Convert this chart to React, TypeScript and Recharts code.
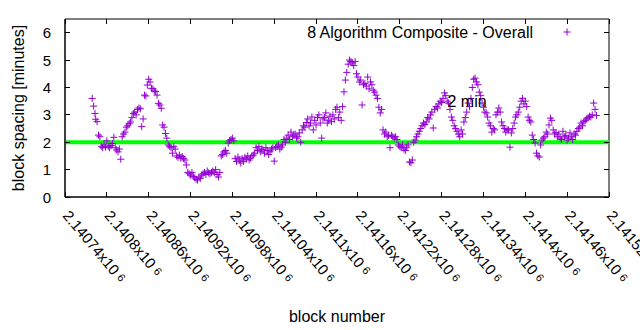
import {
  ScatterChart,
  Scatter,
  XAxis,
  YAxis,
  ReferenceLine,
  ReferenceArea,
  ReferenceDot,
  Label,
  Customized,
} from "recharts"

// block numbers are stored as offsets from the first x tick
const BASE_BLOCK = 2140740

const blockOffsets = [
  39, 41, 43, 44, 46, 48, 50, 52, 54, 56,
  58, 60, 62, 64, 66, 68, 70, 72, 74, 76,
  78, 80, 82, 84, 86, 88, 90, 92, 94, 96,
  98, 100, 102, 104, 106, 108, 110, 112, 114, 116,
  118, 120, 122, 124, 126, 128, 130, 132, 134, 136,
  138, 140, 142, 144, 146, 148, 150, 152, 154, 156,
  158, 160, 162, 164, 166, 168, 170, 172, 174, 176,
  178, 180, 182, 184, 186, 188, 190, 192, 194, 196,
  198, 200, 202, 204, 206, 208, 210, 212, 214, 216,
  218, 220, 222, 224, 226, 228, 230, 232, 234, 236,
  238, 240, 242, 244, 246, 248, 250, 252, 254, 256,
  258, 260, 262, 264, 266, 268, 270, 272, 274, 276,
  278, 280, 282, 284, 286, 288, 290, 292, 294, 296,
  298, 300, 302, 304, 306, 308, 310, 312, 314, 316,
  318, 320, 322, 324, 326, 328, 330, 332, 334, 336,
  338, 340, 342, 344, 346, 348, 350, 352, 354, 356,
  358, 360, 362, 364, 366, 368, 370, 372, 374, 376,
  378, 380, 382, 384, 386, 388, 390, 392, 394, 396,
  398, 400, 402, 404, 406, 408, 410, 412, 414, 416,
  418, 420, 422, 424, 426, 428, 430, 432, 434, 436,
  438, 440, 442, 444, 446, 448, 450, 452, 454, 456,
  458, 460, 462, 464, 466, 468, 470, 472, 474, 476,
  478, 480, 482, 484, 486, 488, 490, 492, 494, 496,
  498, 500, 502, 504, 506, 508, 510, 512, 514, 516,
  518, 520, 522, 524, 526, 528, 530, 532, 534, 536,
  538, 540, 542, 544, 546, 548, 550, 552, 554, 556,
  558, 560, 562, 564, 566, 568, 570, 572, 574, 576,
  578, 580, 582, 584, 586, 588, 590, 592, 594, 596,
  598, 600, 602, 604, 606, 608, 610, 612, 614, 616,
  618, 620, 622, 624, 626, 628, 630, 632, 634, 636,
  638, 640, 642, 644, 646, 648, 650, 652, 654, 656,
  658, 660, 662, 664, 666, 668, 670, 672, 674, 676,
  678, 680, 682, 684, 686, 688, 690, 692, 694, 696,
  698, 700, 702, 704, 706, 708, 710, 712, 714, 716,
  718, 720, 722, 724, 726, 728, 730, 732, 734, 736,
  738, 740, 742, 744, 746, 748, 750, 752, 754, 756,
  758, 760, 762,
]

const spacingMinutes = [
  3.6, 3.32, 3.05, 2.84, 2.75, 2.26, 2.2, 1.85, 1.8, 1.9,
  1.82, 2.05, 1.85, 1.8, 1.88, 1.95, 2.18, 1.8, 1.72, 1.65,
  1.75, 1.38, 2.2, 2.3, 2.37, 2.55, 2.6, 2.68, 2.74, 2.9,
  3.05, 3.1, 3.0, 3.2, 3.25, 3.22, 2.57, 2.85, 3.72, 3.69,
  4.09, 4.3, 4.2, 3.97, 3.95, 3.87, 3.85, 3.72, 3.42, 3.36,
  3.24, 2.63, 2.55, 2.32, 2.15, 1.9, 1.85, 1.8, 1.6, 1.85,
  1.75, 1.5, 1.45, 1.53, 1.42, 1.48, 1.4, 1.35, 1.17, 0.9,
  0.85, 0.8, 0.9, 0.75, 0.7, 0.65, 0.62, 0.73, 0.68, 0.8,
  0.85, 0.9, 0.82, 0.95, 0.88, 0.85, 0.9, 0.95, 0.88, 1.0,
  0.82, 0.73, 0.9, 1.5, 1.55, 1.65, 1.7, 1.6, 1.97, 2.05,
  2.1, 2.15, 2.05, 1.4, 1.3, 1.46, 1.35, 1.24, 1.4, 1.3,
  1.45, 1.38, 1.5, 1.35, 1.42, 1.5, 1.53, 1.6, 1.8, 1.7,
  1.85, 1.65, 1.75, 1.72, 1.6, 1.8, 1.7, 1.55, 1.65, 1.75,
  1.8, 1.31, 1.8, 1.85, 1.9, 1.75, 1.82, 1.9, 2.1, 2.0,
  2.15, 2.26, 2.1, 2.37, 2.2, 2.26, 2.3, 2.15, 2.2, 2.34,
  2.0, 2.45, 2.6, 2.55, 2.72, 2.85, 2.6, 2.7, 2.92, 2.45,
  2.8, 2.63, 2.9, 3.0, 2.7, 2.15, 2.85, 2.9, 3.07, 2.7,
  2.8, 2.95, 2.75, 3.0, 2.85, 3.2, 3.28, 2.9, 3.1, 2.8,
  3.3, 3.84, 4.27, 4.55, 4.85, 5.0, 4.95, 4.9, 4.8, 4.95,
  4.5, 4.38, 4.2, 4.27, 3.36, 4.1, 4.15, 4.05, 4.38, 3.95,
  4.2, 4.1, 3.9, 3.83, 3.72, 3.6, 3.28, 3.07, 3.2, 2.45,
  2.3, 2.37, 2.2, 2.25, 1.8, 2.26, 2.2, 2.15, 2.2, 2.1,
  1.9, 1.85, 1.8, 1.9, 1.75, 1.7, 1.82, 1.9, 1.28, 1.25,
  1.35, 2.0, 2.08, 2.2, 2.3, 2.4, 2.5, 2.6, 2.7, 2.65,
  2.74, 2.9, 2.85, 3.0, 3.1, 2.52, 3.2, 3.3, 3.25, 3.4,
  3.5, 3.45, 3.6, 3.8, 3.7, 3.5, 3.43, 3.2, 2.92, 2.8,
  2.6, 2.5, 2.4, 2.3, 2.2, 2.45, 2.3, 2.74, 2.9, 3.1,
  3.43, 3.3, 3.6, 4.0, 4.3, 4.34, 4.2, 4.1, 3.83, 3.7,
  3.43, 3.28, 3.1, 3.07, 2.92, 2.7, 2.6, 2.37, 2.5, 2.45,
  3.0, 3.1, 3.25, 3.1, 2.74, 2.6, 2.5, 2.37, 2.45, 2.45,
  1.82, 2.34, 2.5, 2.7, 2.92, 3.0, 3.1, 3.28, 3.5, 3.6,
  3.4, 3.5, 3.3, 2.92, 2.8, 2.74, 2.26, 2.1, 1.97, 1.6,
  1.5, 1.46, 1.9, 2.08, 2.15, 2.2, 2.37, 2.3, 2.63, 2.88,
  2.8, 2.45, 2.3, 2.35, 2.2, 2.3, 2.15, 2.1, 2.4, 2.2,
  2.25, 2.08, 2.15, 2.34, 2.2, 2.1, 2.3, 2.26, 2.4, 2.5,
  2.55, 2.7, 2.6, 2.75, 2.8, 2.85, 2.9, 2.95, 2.92, 3.0,
  3.43, 3.2, 2.98,
]

const xTicks = [
  2140740, 2140800, 2140860, 2140920, 2140980, 2141040, 2141100,
  2141160, 2141220, 2141280, 2141340, 2141400, 2141460, 2141520,
]
const yTicks = [0, 1, 2, 3, 4, 5, 6]

const seriesName = "8 Algorithm Composite - Overall"
const targetMinutes = 2
const targetLabel = "2 min"
const targetLabelAt = { block: 2141287, minutes: 3.49 }

const data = blockOffsets.map((o, i) => ({ block: BASE_BLOCK + o, spacing: spacingMinutes[i] }))

const W = 640
const H = 330
const PLOT_W = 544
const PLOT_H = 178
const TICK = 5
const PURPLE = "#9400d3"
const FONT = '"Liberation Sans", Arial, sans-serif'

const PlusMarker = (props: any) => {
  const { cx, cy } = props
  if (cx == null || cy == null) return null
  const s = 3.5
  return (
    <path
      d={`M${cx - s},${cy}H${cx + s}M${cx},${cy - s}V${cy + s}`}
      stroke={PURPLE}
      strokeWidth={1}
      fill="none"
    />
  )
}

const XTick = ({ x, y, payload }: any) => {
  const mantissa = parseFloat((payload.value / 1e6).toFixed(5)).toString()
  const tx = x - 3
  const ty = y + 19
  return (
    <g>
      <line x1={x} x2={x} y1={y} y2={y - TICK} stroke="#000" shapeRendering="crispEdges" />
      <line x1={x} x2={x} y1={y - PLOT_H} y2={y - PLOT_H + TICK} stroke="#000" shapeRendering="crispEdges" />
      <text transform={`rotate(50 ${tx} ${ty})`} x={tx} y={ty} fontSize={15} fill="#000">
        {mantissa}x10
        <tspan fontSize={11} dx={4} dy={-2}>6</tspan>
      </text>
    </g>
  )
}

const YTick = ({ x, y, payload }: any) => (
  <g>
    <line x1={x} x2={x + TICK} y1={y} y2={y} stroke="#000" shapeRendering="crispEdges" />
    <line x1={x + PLOT_W - TICK} x2={x + PLOT_W} y1={y} y2={y} stroke="#000" shapeRendering="crispEdges" />
    <text x={x - 14} y={y} textAnchor="end" dominantBaseline="central" fontSize={15} fill="#000">
      {payload.value}
    </text>
  </g>
)

const LegendBox = () => {
  const ty = 32
  return (
    <g>
      <text x={533} y={ty} textAnchor="end" dominantBaseline="central" fontSize={16} fill="#000">
        {seriesName}
      </text>
      <PlusMarker cx={567} cy={ty} />
    </g>
  )
}

export default function App() {
  return (
    <div style={{ position: "absolute", left: 0, top: 0, width: W, height: H, background: "#fff", fontFamily: FONT }}>
      <ScatterChart width={W} height={H} margin={{ top: 19, right: 31, bottom: 0, left: 0 }}>
        <XAxis
          dataKey="block"
          type="number"
          domain={[xTicks[0], xTicks[xTicks.length - 1]]}
          ticks={xTicks}
          interval={0}
          allowDataOverflow
          height={133}
          tickSize={0}
          tickMargin={0}
          tickLine={false}
          axisLine={{ stroke: "#000" }}
          tick={<XTick />}
        >
          <Label
            content={(p: any) => (
              <text
                x={p.viewBox.x + p.viewBox.width / 2}
                y={p.viewBox.y + 119}
                textAnchor="middle"
                dominantBaseline="central"
                fontSize={16}
                fill="#000"
              >
                block number
              </text>
            )}
          />
        </XAxis>
        <YAxis
          dataKey="spacing"
          type="number"
          domain={[0, 6.5]}
          ticks={yTicks}
          interval={0}
          allowDataOverflow
          width={65}
          tickSize={0}
          tickMargin={0}
          tickLine={false}
          axisLine={{ stroke: "#000" }}
          tick={<YTick />}
        >
          <Label
            content={(p: any) => {
              const cx = 18
              const cy = p.viewBox.y + p.viewBox.height / 2
              return (
                <text
                  transform={`rotate(-90 ${cx} ${cy})`}
                  x={cx}
                  y={cy}
                  textAnchor="middle"
                  dominantBaseline="central"
                  fontSize={16}
                  fill="#000"
                >
                  block spacing [minutes]
                </text>
              )
            }}
          />
        </YAxis>
        <ReferenceArea
          x1={xTicks[0]}
          x2={xTicks[xTicks.length - 1]}
          y1={0}
          y2={6.5}
          fill="none"
          stroke="#000"
          strokeWidth={1}
        />
        <ReferenceDot
          x={targetLabelAt.block}
          y={targetLabelAt.minutes}
          r={1}
          fill="none"
          stroke="none"
          label={{ value: targetLabel, position: "right", offset: 0, fontSize: 16, fill: "#000" }}
        />
        <Scatter name={seriesName} data={data} shape={PlusMarker} isAnimationActive={false} />
        <ReferenceLine y={targetMinutes} stroke="#00ff00" strokeWidth={4} />
        <Customized component={LegendBox} />
      </ScatterChart>
    </div>
  )
}
